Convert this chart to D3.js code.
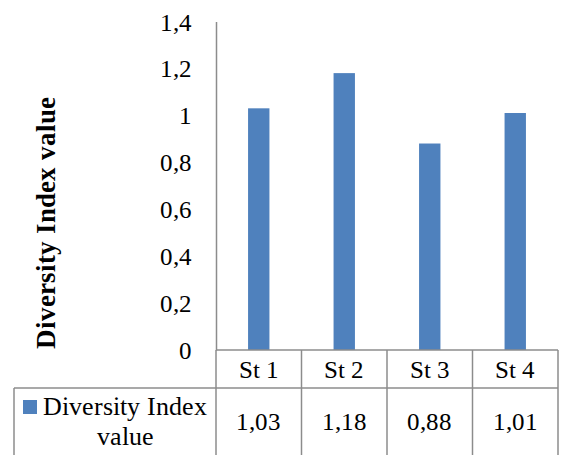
<!DOCTYPE html>
<html>
<head>
<meta charset="utf-8">
<script src="https://cdn.jsdelivr.net/npm/d3@7/dist/d3.min.js"></script>
<style>
  @font-face { font-family: "StationSerif"; font-weight: 400; src: local("Liberation Serif"), local("LiberationSerif"), local("Times New Roman"); }
  @font-face { font-family: "StationSerif"; font-weight: 700; src: local("Liberation Serif Bold"), local("LiberationSerif-Bold"), local("Times New Roman Bold"); }
</style>
</head>
<body style="margin:0">
<svg id="chart" width="563" height="455"></svg>
<script>
// Diversity index per station
const categories = ["St 1", "St 2", "St 3", "St 4"];
const values = [1.03, 1.18, 0.88, 1.01];
const tickValues = [0, 0.2, 0.4, 0.6, 0.8, 1, 1.2, 1.4];
const seriesName = ["Diversity Index", "value"];
const axisTitle = "Diversity Index value";

const svg = d3.select("#chart");
const fontName = "StationSerif, Liberation Serif, serif";
const barColor = "#4F81BD";
const lineColor = "#8C8C8C";
const fontSize = 25;

const plot = { left: 216, right: 558, top: 21.5, bottom: 350 };
const tableRowY = 388, tableBottom = 455, tableLeft = 14;

const x = d3.scaleBand()
  .domain(categories)
  .range([plot.left, plot.right])
  .paddingInner(0.75)
  .paddingOuter(0.375);

const y = d3.scaleLinear().domain([0, 1.4]).range([plot.bottom, plot.top]);

const setFont = (sel, size, weight) => sel
  .attr("font-family", fontName)
  .attr("font-size", size)
  .attr("font-weight", weight || "normal")
  .attr("fill", "#000");

// Y axis with comma decimal labels
const fmt = v => String(+v.toFixed(1)).replace(".", ",");
const yAxis = d3.axisLeft(y).tickValues(tickValues).tickSize(0).tickPadding(24).tickFormat(fmt);
const gy = svg.append("g")
  .attr("transform", `translate(${plot.left},0)`)
  .call(yAxis);
gy.attr("font-family", fontName).attr("font-size", null);
gy.select(".domain").attr("stroke", lineColor).attr("stroke-width", 1.5);
gy.selectAll("text").call(setFont, fontSize).attr("dy", "0.34em");

// Bars
svg.append("g").selectAll("rect")
  .data(values)
  .join("rect")
  .attr("x", (d, i) => x(categories[i]))
  .attr("width", x.bandwidth())
  .attr("y", d => y(d))
  .attr("height", d => y(0) - y(d))
  .attr("fill", barColor);

// Data table grid
const grid = svg.append("g").attr("stroke", lineColor).attr("stroke-width", 1.5).attr("fill", "none");
grid.append("line").attr("x1", plot.left).attr("x2", plot.right).attr("y1", plot.bottom).attr("y2", plot.bottom);
grid.append("line").attr("x1", tableLeft).attr("x2", plot.right).attr("y1", tableRowY).attr("y2", tableRowY);
grid.append("line").attr("x1", tableLeft).attr("x2", tableLeft).attr("y1", tableRowY).attr("y2", tableBottom);
const step = x.step();
const colEdges = d3.range(categories.length + 1).map(i => plot.left + i * step);
grid.selectAll("line.col")
  .data(colEdges)
  .join("line")
  .attr("class", "col")
  .attr("x1", d => d).attr("x2", d => d)
  .attr("y1", plot.bottom).attr("y2", tableBottom);

// Category header row
svg.append("g").selectAll("text")
  .data(categories)
  .join("text")
  .call(setFont, fontSize)
  .attr("x", d => x(d) + x.bandwidth() / 2)
  .attr("y", 378)
  .attr("text-anchor", "middle")
  .text(d => d);

// Value row
svg.append("g").selectAll("text")
  .data(values)
  .join("text")
  .call(setFont, fontSize)
  .attr("x", (d, i) => x(categories[i]) + x.bandwidth() / 2)
  .attr("y", 430)
  .attr("text-anchor", "middle")
  .text(d => d.toFixed(2).replace(".", ","));

// Legend key cell
const legendCx = 125;
svg.append("rect")
  .attr("x", 23).attr("y", 400)
  .attr("width", 14).attr("height", 14)
  .attr("fill", barColor);
svg.append("text").call(setFont, 26).attr("text-anchor", "middle")
  .attr("x", legendCx).attr("y", 415).text(seriesName[0]);
svg.append("text").call(setFont, 26).attr("text-anchor", "middle")
  .attr("x", legendCx).attr("y", 445).text(seriesName[1]);

// Y axis title
svg.append("text")
  .call(setFont, 27, "bold")
  .attr("transform", "translate(55,223) rotate(-90)")
  .attr("text-anchor", "middle")
  .text(axisTitle);
</script>
</body>
</html>
